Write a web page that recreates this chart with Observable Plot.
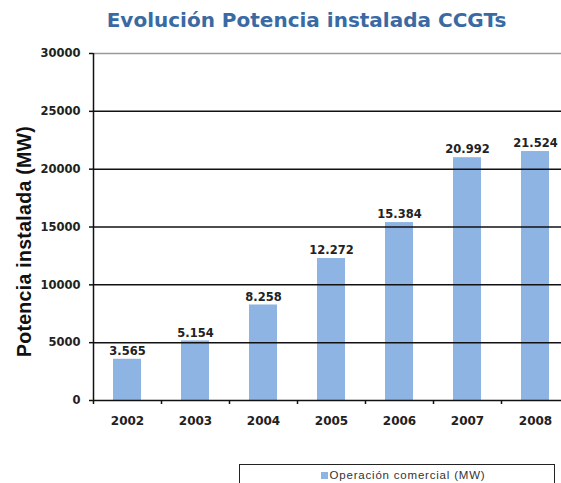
<!DOCTYPE html>
<html>
<head>
<meta charset="utf-8">
<script src="https://cdn.jsdelivr.net/npm/d3@7"></script>
<script src="https://cdn.jsdelivr.net/npm/@observablehq/plot@0.6"></script>
<style>
  html, body { margin: 0; padding: 0; background: #fff; overflow: hidden; }
  #wrap { position: relative; width: 561px; height: 483px; overflow: hidden; }
  #title { box-sizing: border-box; height: 36px; padding-top: 9.5px; padding-left: 52px; text-align: center;
    font-family: "DejaVu Sans", Verdana, sans-serif; font-weight: bold; font-size: 20px; line-height: 1;
    color: #3A6AA4; white-space: nowrap; }
  #legend { position: absolute; left: 239px; top: 464px; width: 316px; height: 30px; border: 1.5px solid #222;
    font-family: "Liberation Sans", Arial, sans-serif; font-size: 11.5px; letter-spacing: 0.8px; color: #333;
    text-align: center; line-height: 20px; padding-left: 12px; box-sizing: border-box; }
  #legend .sw { display: inline-block; width: 7px; height: 7px; background: #8EB4E3; margin-right: 2px; vertical-align: 0px; }
</style>
</head>
<body>
<div id="wrap">
  <div id="title">Evolución Potencia instalada CCGTs</div>
  <div id="chart"></div>
  <div id="legend"><span class="sw"></span>Operación comercial (MW)</div>
</div>
<script>
// Data
const years = [2002, 2003, 2004, 2005, 2006, 2007, 2008];
const values = [3565, 5154, 8258, 12272, 15384, 20992, 21524];
const yTicks = [0, 5000, 10000, 15000, 20000, 25000, 30000];
const yLabel = "Potencia instalada (MW)";
const seriesName = "Operación comercial (MW)";

const data = years.map((y, i) => ({year: y, value: values[i]}));
const boundaries = years.map(y => y - 0.5).concat([years[years.length - 1] + 0.5]);
const esFmt = d3.formatLocale({decimal: ",", thousands: ".", grouping: [3], currency: ["", ""]}).format(",d");
const halfBar = 0.206;

const font = "'DejaVu Sans', Verdana, sans-serif";

const chart = Plot.plot({
  width: 561,
  height: 420,
  marginTop: 17,
  marginBottom: 56,
  marginLeft: 93,
  marginRight: 0,
  style: {fontFamily: font, background: "transparent", overflow: "visible"},
  x: {domain: [boundaries[0], boundaries[boundaries.length - 1]], range: [93, 569]},
  y: {domain: [0, 30000], range: [364, 17]},
  marks: [
    Plot.rectY(data, {x1: d => d.year - halfBar, x2: d => d.year + halfBar, y1: 0, y2: "value", fill: "#8EB4E3"}),
    Plot.ruleY(yTicks.filter(t => t > 0 && t < 30000), {stroke: "#111", strokeWidth: 1.5}),
    Plot.ruleY([30000], {stroke: "#9a9a9a", strokeWidth: 1.6}),
    Plot.ruleY([0], {stroke: "#111", strokeWidth: 1.5}),
    Plot.ruleX([boundaries[0]], {y1: 0, y2: 30000, stroke: "#111", strokeWidth: 1.5}),
    Plot.axisY({ticks: yTicks, tickSize: 4, tickPadding: 9, tickFormat: d => String(d), label: null,
      fontSize: 11.5, fontWeight: "bold", fill: "#222", stroke: "#111", strokeWidth: 1.5}),
    Plot.axisX({ticks: boundaries, tickSize: 4, tickFormat: () => "", label: null, stroke: "#111", strokeWidth: 1.5}),
    Plot.axisX({ticks: years, tickSize: 0, tickPadding: 16, tickFormat: d => String(d), label: null,
      fontSize: 12, fontWeight: "bold", fill: "#222"}),
    Plot.text(data, {x: "year", y: "value", text: d => esFmt(d.value), dy: -8,
      fontSize: 11.5, fontWeight: "bold", fill: "#222"}),
    Plot.text([yLabel], {frameAnchor: "left", textAnchor: "middle", dx: -69, dy: 14.5, rotate: -90,
      fontFamily: "'Liberation Sans', Arial, sans-serif", fontSize: 19.5, fontWeight: "bold", fill: "#111"})
  ]
});
d3.select(chart).selectAll("text").filter(function() { return this.textContent === yLabel; })
  .style("letter-spacing", "0.3px");
document.getElementById("chart").appendChild(chart);
</script>
</body>
</html>
